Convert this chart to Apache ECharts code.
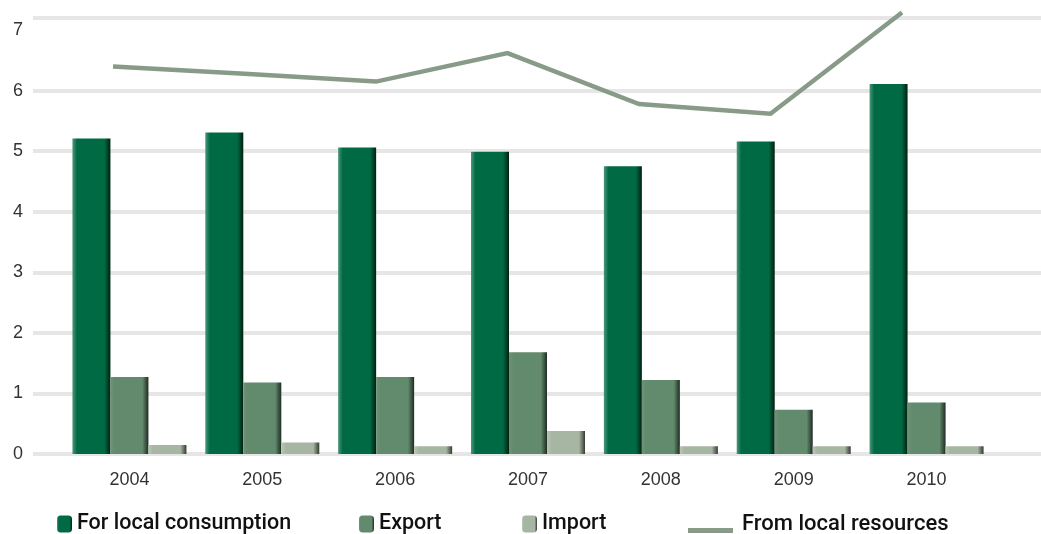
<!DOCTYPE html>
<html><head><meta charset="utf-8">
<script src="https://cdn.jsdelivr.net/npm/echarts@6/dist/echarts.min.js"></script>
<style>html,body{margin:0;padding:0;background:#fff}#c{width:1041px;height:534px}</style>
</head><body><div id="c"></div>
<script>
const years = ['2004', '2005', '2006', '2007', '2008', '2009', '2010'];
const localConsumption = [5.21, 5.31, 5.06, 4.99, 4.75, 5.16, 6.11];
const exportVals = [1.27, 1.18, 1.27, 1.68, 1.22, 0.73, 0.85];
const importVals = [0.15, 0.19, 0.13, 0.38, 0.13, 0.13, 0.13];
const localResources = [6.40, 6.28, 6.15, 6.62, 5.78, 5.62, 7.29];
const yTickLabels = ['0', '1', '2', '3', '4', '5', '6', '7'];
const gridValues = [0, 1, 2, 3, 4, 5, 6, 7.2];
const Y_MAX = 7.2;

const names = ['For local consumption', 'Export', 'Import', 'From local resources'];

function hGrad(light, main, dark) {
  return new echarts.graphic.LinearGradient(0, 0, 1, 0, [
    { offset: 0, color: light },
    { offset: 0.12, color: main },
    { offset: 0.84, color: main },
    { offset: 1, color: dark }
  ]);
}

const chart = echarts.init(document.getElementById('c'), null, { renderer: 'canvas' });
const font = 'Liberation Sans, Arial, sans-serif';
const legendText = { fontSize: 21.5, color: '#111', fontFamily: 'Roboto, Liberation Sans, sans-serif', fontWeight: 500 };

function legendItem(name, left, extra) {
  return Object.assign({
    data: [name], left: left, top: 508, orient: 'horizontal',
    itemWidth: 15, itemHeight: 17, selectedMode: false,
    textStyle: legendText
  }, extra || {});
}

chart.setOption({
  animation: false,
  backgroundColor: '#fff',
  grid: [
    { left: 63, right: 48, top: 18, bottom: 80 },
    { left: 33, right: 0, top: 18, bottom: 80 },
    { left: 113, right: 139, top: 18, bottom: 80 }
  ],
  legend: [
    legendItem(names[0], 52),
    legendItem(names[1], 354),
    legendItem(names[2], 517),
    legendItem(names[3], 683, {
      itemWidth: 45, itemHeight: 18,
      icon: 'path://M0,0L0.01,0L0.01,0.01Z M0,13L45,13L45,18L0,18Z',
      textStyle: Object.assign({}, legendText, { fontSize: 22, padding: [0, 0, 0, 4] })
    })
  ],
  xAxis: [
    {
      type: 'category', data: years, gridIndex: 0,
      axisLine: { show: false }, axisTick: { show: false },
      axisLabel: { fontSize: 18, color: '#333', fontFamily: font, margin: 17 }
    },
    { type: 'value', gridIndex: 1, min: 0, max: 1, show: false },
    { type: 'category', data: years, gridIndex: 2, boundaryGap: false, show: false }
  ],
  yAxis: [
    { type: 'value', gridIndex: 0, min: 0, max: Y_MAX, show: false },
    {
      type: 'value', gridIndex: 1, min: 0, max: Y_MAX, interval: 1,
      axisLine: { show: false }, axisTick: { show: false }, splitLine: { show: false },
      axisLabel: {
        fontSize: 18, color: '#333', fontFamily: font, margin: 10, showMaxLabel: false,
        formatter: function (v) { const i = Math.round(v); return (Math.abs(v - i) < 1e-6 && yTickLabels[i] !== undefined) ? yTickLabels[i] : ''; }
      }
    },
    { type: 'value', gridIndex: 2, min: 0, max: Y_MAX, show: false }
  ],
  series: [
    {
      type: 'line', xAxisIndex: 1, yAxisIndex: 1, data: [], z: 0, silent: true,
      markLine: {
        silent: true, symbol: 'none', label: { show: false }, z: 0,
        lineStyle: { color: '#e6e6e6', width: 4, type: 'solid' },
        data: gridValues.map(v => ({ yAxis: v }))
      }
    },
    {
      name: names[0], type: 'bar', xAxisIndex: 0, yAxisIndex: 0, data: localConsumption,
      barWidth: 38, barGap: '0%', z: 3,
      itemStyle: { color: hGrad('#4c977a', '#006a45', '#00200f') }
    },
    {
      name: names[1], type: 'bar', xAxisIndex: 0, yAxisIndex: 0, data: exportVals,
      barWidth: 38, barGap: '0%', z: 3,
      itemStyle: { color: hGrad('#6f9276', '#628a6c', '#1f2b22') }
    },
    {
      name: names[2], type: 'bar', xAxisIndex: 0, yAxisIndex: 0, data: importVals,
      barWidth: 38, barGap: '0%', z: 3,
      itemStyle: { color: hGrad('#b9c6b6', '#a7b6a3', '#343b32') }
    },
    {
      name: names[3], type: 'line', xAxisIndex: 2, yAxisIndex: 2, data: localResources,
      z: 4, symbol: 'none', showSymbol: false, clip: false,
      lineStyle: { color: '#889a88', width: 4.5, join: 'miter' },
      itemStyle: { color: '#889a88' }
    }
  ]
});
</script>
</body></html>
